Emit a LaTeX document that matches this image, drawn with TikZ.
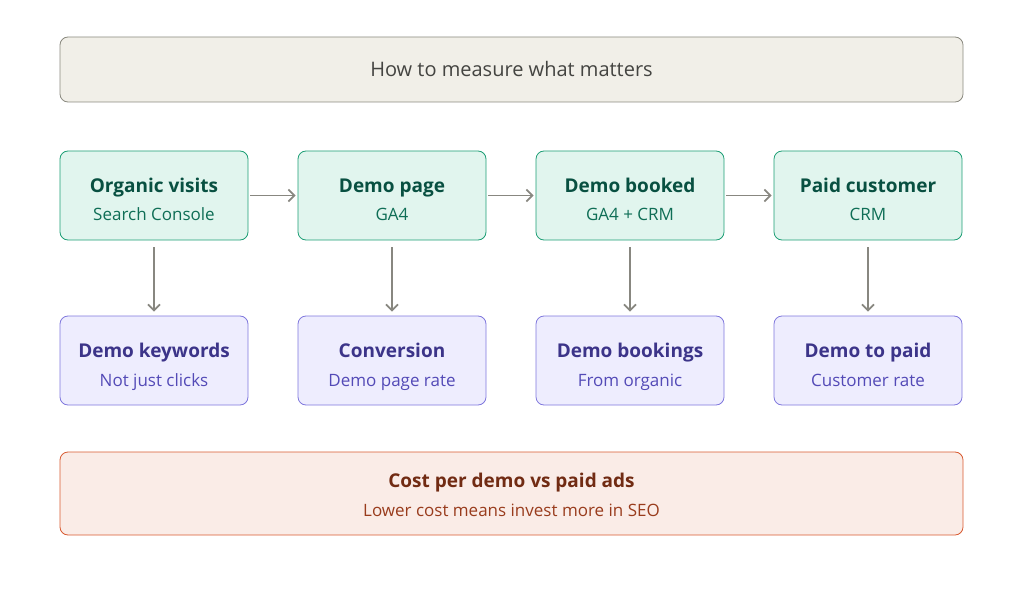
\documentclass[tikz,border=0pt]{standalone}
\usepackage{fontspec}
\setmainfont{Open Sans}
\usetikzlibrary{arrows.meta}
\definecolor{gfill}{HTML}{E1F5EE}\definecolor{gdraw}{HTML}{1D9E75}\definecolor{gtext}{HTML}{085041}\definecolor{gsub}{HTML}{0F6E56}
\definecolor{pfill}{HTML}{EEEDFE}\definecolor{pdraw}{HTML}{7F77DD}\definecolor{ptext}{HTML}{3C3489}\definecolor{psub}{HTML}{534AB7}
\definecolor{rfill}{HTML}{FAECE7}\definecolor{rdraw}{HTML}{D85A30}\definecolor{rtext}{HTML}{712B13}\definecolor{rsub}{HTML}{993C1D}
\definecolor{tfill}{HTML}{F1EFE8}\definecolor{tdraw}{HTML}{8A897F}\definecolor{ttext}{HTML}{444441}
\definecolor{arr}{HTML}{888780}
\tikzset{x=1pt,y=-1pt,
 box/.style={draw,rounded corners=8pt,line width=0.8pt,minimum width=188pt,minimum height=89pt,inner sep=0pt,align=center},
 g/.style={box,fill=gfill,draw=gdraw,text=gtext},
 p/.style={box,fill=pfill,draw=pdraw,text=ptext},
 ar/.style={draw=arr,line width=1.7pt,-{Straight Barb[length=6pt,width=12pt]}},
 t/.style={anchor=base,inner sep=0pt,font=\fontsize{19}{22}\selectfont\bfseries},
 s/.style={anchor=base,inner sep=0pt,font=\fontsize{17}{20}\selectfont}}
\begin{document}
\begin{tikzpicture}
\useasboundingbox (0,0) rectangle (1024,596);
\node[box,fill=tfill,draw=tdraw,minimum width=903pt,minimum height=65pt] (top) at (511.5,69.5) {};
\node[anchor=base,inner sep=0pt,text=ttext,font=\fontsize{20}{24}\selectfont] (toptext) at (511.5,77) {How to measure what matters};
\foreach \n/\x/\a/\b/\c/\d in {1/154/Organic visits/Search Console/Demo keywords/Not just clicks,
 2/392/Demo page/GA4/Conversion/Demo page rate,
 3/630/Demo booked/GA4 + CRM/Demo bookings/From organic,
 4/868/Paid customer/CRM/Demo to paid/Customer rate}{
 \node[g] (g\n) at (\x,195.5) {};
 \node[t,text=gtext] (ga\n) at (\x,192) {\a};
 \node[s,text=gsub] (gb\n) at (\x,220) {\b};
 \node[p] (p\n) at (\x,360.5) {};
 \node[t,text=ptext] (pa\n) at (\x,357) {\c};
 \node[s,text=psub] (pb\n) at (\x,386) {\d};
 \draw[ar] ([yshift=-7pt]g\n.south) -- ([yshift=4pt]p\n.north);
}
\foreach \i/\j in {1/2,2/3,3/4}{\draw[ar] ([xshift=2pt]g\i.east) -- ([xshift=-2pt]g\j.west);}
\node[box,fill=rfill,draw=rdraw,minimum width=903pt,minimum height=83pt] (bot) at (511.5,493.5) {};
\node[t,text=rtext] (bota) at (511.5,487) {Cost per demo vs paid ads};
\node[s,text=rsub] (botb) at (511.5,516) {Lower cost means invest more in SEO};
\end{tikzpicture}
\end{document}
